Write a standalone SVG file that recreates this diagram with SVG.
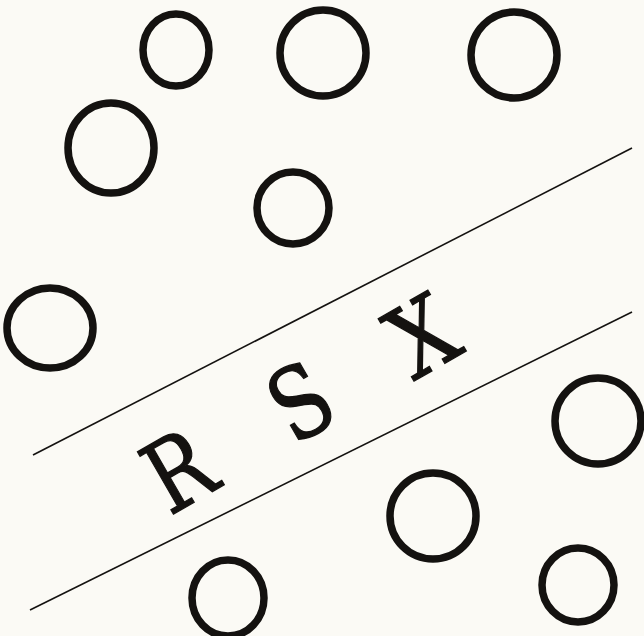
<svg xmlns="http://www.w3.org/2000/svg" width="644" height="636" viewBox="0 0 644 636">
<style>
.c{fill:none;stroke:#141210;stroke-width:7.5}
.l{stroke:#141210;stroke-width:1.6;fill:none}
.t{font-family:"DejaVu Serif","Liberation Serif",serif;font-size:96px;fill:#141210;stroke:#141210;stroke-width:1.3;text-anchor:middle}
</style>
<rect width="644" height="636" fill="#fbfaf5"/>
<g id="circles">
<g id="c1"><ellipse class="c" cx="176" cy="50" rx="33" ry="36"/></g>
<g id="c2"><ellipse class="c" cx="323" cy="53" rx="43" ry="43"/></g>
<g id="c3"><ellipse class="c" cx="514" cy="55" rx="43" ry="43"/></g>
<g id="c4"><ellipse class="c" cx="111" cy="148" rx="43" ry="45"/></g>
<g id="c5"><ellipse class="c" cx="293" cy="208" rx="36" ry="36"/></g>
<g id="c6"><ellipse class="c" cx="50" cy="328" rx="43" ry="40"/></g>
<g id="c7"><ellipse class="c" cx="598" cy="421" rx="43" ry="43"/></g>
<g id="c8"><ellipse class="c" cx="433" cy="516" rx="43" ry="43"/></g>
<g id="c9"><ellipse class="c" cx="228" cy="598" rx="36" ry="38"/></g>
<g id="c10"><ellipse class="c" cx="578" cy="585" rx="36" ry="37"/></g>
</g>
<g id="connectors">
<line class="l" x1="33" y1="455" x2="632" y2="148"/>
<line class="l" x1="30" y1="610" x2="632" y2="312"/>
</g>
<g id="labels">
<g id="R" transform="translate(178,470) rotate(-30) scale(0.85,1.03)"><text class="t" y="35">R</text></g>
<g id="S" transform="translate(300,401) rotate(-30) scale(0.85,1.03)"><text class="t" y="35">S</text></g>
<g id="X" transform="translate(422,335) rotate(-30) scale(0.9,1.03)"><text class="t" y="35">X</text></g>
</g>
</svg>
